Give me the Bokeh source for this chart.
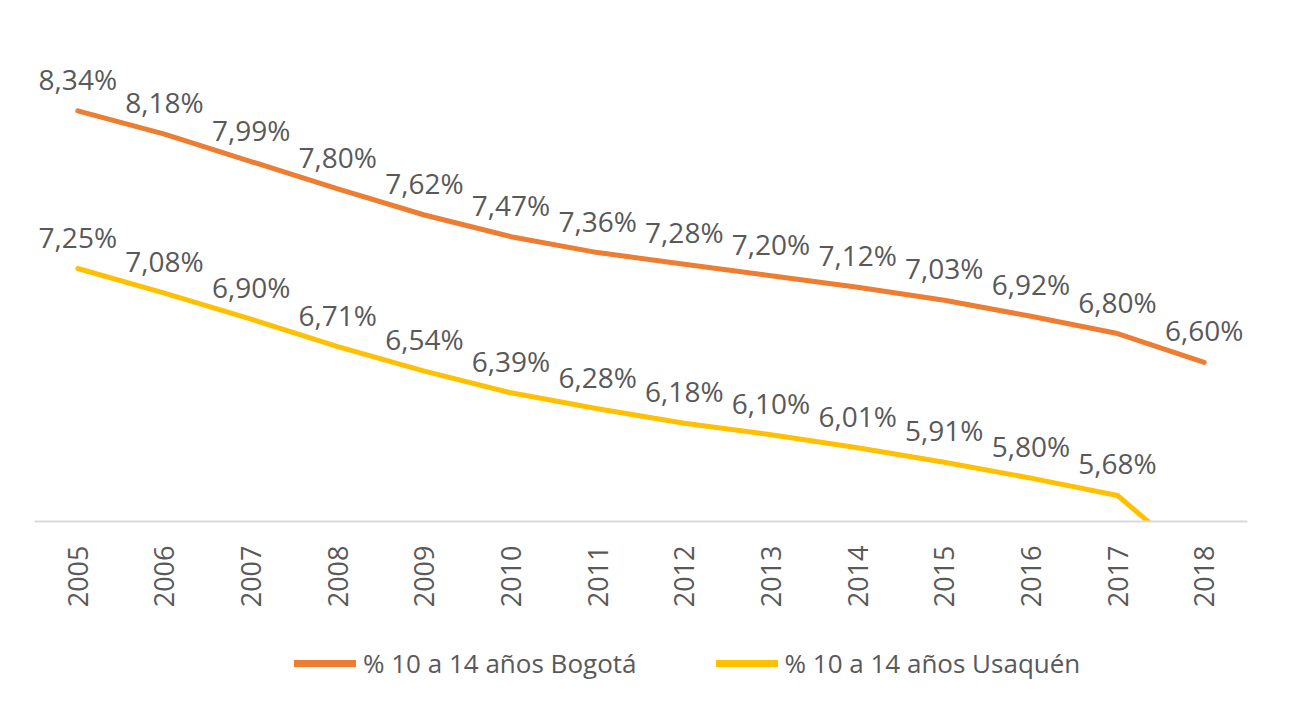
import math
from bokeh.plotting import figure
from bokeh.layouts import column
from bokeh.models import ColumnDataSource, FactorRange, Range1d, Legend, LegendItem
from bokeh.core.properties import value
from bokeh.embed import file_html
from bokeh.resources import INLINE

years = ["2005", "2006", "2007", "2008", "2009", "2010", "2011",
         "2012", "2013", "2014", "2015", "2016", "2017", "2018"]
bogota = [8.34, 8.18, 7.99, 7.80, 7.62, 7.47, 7.36, 7.28, 7.20, 7.12, 7.03, 6.92, 6.80, 6.60]
usaquen = [7.25, 7.08, 6.90, 6.71, 6.54, 6.39, 6.28, 6.18, 6.10, 6.01, 5.91, 5.80, 5.68, 5.17]
series_names = ["% 10 a 14 años Bogotá", "% 10 a 14 años Usaquén"]
colors = ["#ED7D31", "#FFC000"]

Y_START, Y_END = 5.5, 9.0
FONT = "Open Sans"
TEXT_COLOR = "#595959"

p = figure(x_range=FactorRange(*years, range_padding=0),
           y_range=Range1d(Y_START, Y_END),
           frame_width=1213, frame_height=506,
           output_backend="svg", toolbar_location=None,
           min_border_left=34, min_border_right=34, min_border_top=15,
           min_border_bottom=100)
p.outline_line_color = None
p.xgrid.visible = False
p.ygrid.visible = False
p.yaxis.visible = False

ax = p.xaxis[0]
ax.axis_line_color = "#D9D9D9"
ax.axis_line_width = 2
ax.major_tick_line_color = None
ax.minor_tick_line_color = None
ax.major_label_orientation = math.pi / 2
ax.major_label_text_font = FONT
ax.major_label_text_font_size = "27px"
ax.major_label_text_color = TEXT_COLOR
ax.major_label_standoff = 18

def fmt(v):
    return ("%.2f" % v).replace(".", ",") + "%"

for vals, color in zip([bogota, usaquen], colors):
    src = ColumnDataSource(dict(x=years, y=vals))
    p.line("x", "y", source=src, line_color=color, line_width=5,
           line_join="round", line_cap="round")
    lx = [x for x, v in zip(years, vals) if v >= Y_START]
    ly = [v for v in vals if v >= Y_START]
    lsrc = ColumnDataSource(dict(x=lx, y=ly, t=[fmt(v) for v in ly]))
    p.text("x", "y", text="t", source=lsrc, text_font=value(FONT),
           text_font_size="28px", text_color=TEXT_COLOR,
           text_align="center", text_baseline="alphabetic", y_offset=-32)

# legend strip below the chart (its series lie outside this strip's y range,
# so only the legend swatches show)
lg = figure(width=1281, height=84, x_range=Range1d(0, 1), y_range=Range1d(0, 1),
            output_backend="svg", toolbar_location=None,
            x_axis_location=None, y_axis_location=None,
            min_border_left=0, min_border_right=0, min_border_top=0, min_border_bottom=0)
lg.outline_line_color = None
lg.xgrid.visible = False
lg.ygrid.visible = False
items = []
for name, vals, color in zip(series_names, [bogota, usaquen], colors):
    r = lg.line(x=list(range(len(vals))), y=vals, line_color=color, line_width=7,
                line_cap="round")
    items.append(LegendItem(label=name, renderers=[r]))

legend = Legend(items=items, orientation="horizontal", location=(260, 24))
legend.label_text_font = FONT
legend.label_text_font_size = "26px"
legend.label_text_color = TEXT_COLOR
legend.glyph_width = 62
legend.glyph_height = 30
legend.label_standoff = 7
legend.spacing = 79
legend.padding = 0
legend.margin = 0
legend.border_line_color = None
legend.background_fill_alpha = 0
lg.add_layout(legend, "center")

layout = column(p, lg, spacing=0)
open("out.html", "w").write(file_html(layout, INLINE))
